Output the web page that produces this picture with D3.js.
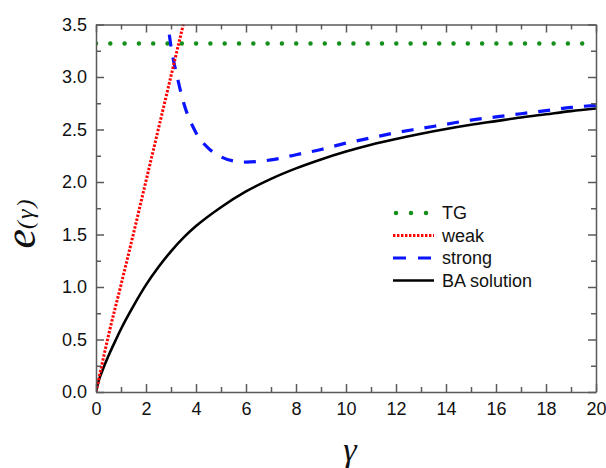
<!DOCTYPE html>
<html>
<head>
<meta charset="utf-8">
<script src="https://cdn.jsdelivr.net/npm/d3@7/dist/d3.min.js"></script>
<style>
  body { margin: 0; background: #fff; }
  svg { display: block; }
  .axis path, .axis line { stroke: #5a5a5a; stroke-width: 1.5; }
</style>
</head>
<body>
<svg id="chart" width="606" height="468"></svg>
<script>
// values
var xTicks = [0, 2, 4, 6, 8, 10, 12, 14, 16, 18, 20];
var yTicks = [0, 0.5, 1.0, 1.5, 2.0, 2.5, 3.0, 3.5];

var tgGamma = [0, 20];
var tgE = [3.32, 3.32];

var weakGamma = [0, 0.5, 1, 1.5, 2, 2.5, 3, 3.5, 3.6];
var weakE = [0, 0.54, 1.02, 1.51, 2.01, 2.51, 3.01, 3.51, 3.61];

var strongGamma = [2.8, 2.9, 3.0, 3.25, 3.5, 4, 4.5, 5, 5.5, 6, 7, 8, 9, 10, 11, 12, 13, 14, 15, 16, 17, 18, 19, 20];
var strongE = [3.62, 3.46, 3.29, 3.0, 2.76, 2.47, 2.32, 2.24, 2.2, 2.19, 2.21, 2.26, 2.31, 2.37, 2.42, 2.47, 2.51, 2.55, 2.59, 2.62, 2.65, 2.68, 2.71, 2.73];

var baGamma = [0, 0.1, 0.25, 0.5, 0.75, 1, 1.5, 2, 2.5, 3, 3.5, 4, 5, 6, 7, 8, 9, 10, 11, 12, 13, 14, 15, 16, 17, 18, 19, 20];
var baE = [0, 0.1, 0.2, 0.345, 0.475, 0.6, 0.82, 1.02, 1.19, 1.34, 1.47, 1.58, 1.76, 1.91, 2.03, 2.13, 2.215, 2.29, 2.355, 2.41, 2.46, 2.505, 2.545, 2.58, 2.615, 2.645, 2.675, 2.7];

var series = [
  {name: 'TG', g: tgGamma, e: tgE, color: '#14901a', width: 4.5, dash: '0,14.3', cap: 'round'},
  {name: 'BA solution', g: baGamma, e: baE, color: '#000', width: 2.6, dash: null, cap: 'butt'},
  {name: 'strong', g: strongGamma, e: strongE, color: '#0a14ff', width: 3.2, dash: '12,11', cap: 'butt'},
  {name: 'weak', g: weakGamma, e: weakE, color: '#ff0000', width: 3, dash: '2.4,1.6', cap: 'butt'}
];
var legendOrder = ['TG', 'weak', 'strong', 'BA solution'];

var mLeft = 96, mTop = 24.5, mRight = 596, mBottom = 392;
var sans = '"Liberation Sans", Arial, sans-serif';
var serif = '"Liberation Serif", "Times New Roman", serif';
var svg = d3.select('#chart');

var x = d3.scaleLinear().domain([0, 20]).range([mLeft, mRight]);
var y = d3.scaleLinear().domain([0, 3.5]).range([mBottom, mTop]);

svg.append('clipPath').attr('id', 'clip')
  .append('rect').attr('x', mLeft).attr('y', mTop)
  .attr('width', mRight - mLeft).attr('height', mBottom - mTop);

var line = d3.line()
  .x(function(d) { return x(d[0]); })
  .y(function(d) { return y(d[1]); })
  .curve(d3.curveMonotoneX);

var plot = svg.append('g').attr('clip-path', 'url(#clip)');
series.forEach(function(s) {
  var pts = s.g.map(function(v, i) { return [v, s.e[i]]; });
  plot.append('path')
    .datum(pts)
    .attr('fill', 'none')
    .attr('stroke', s.color)
    .attr('stroke-width', s.width)
    .attr('stroke-linecap', s.cap)
    .attr('stroke-dasharray', s.dash)
    .attr('d', line);
});

// minor ticks
var xMinor = d3.range(1, 20, 2);
var yMinor = d3.range(0.25, 3.5, 0.5);

function axes(axisFn, scale, major, minor, pos, fmt, pad) {
  var g = svg.append('g').attr('class', 'axis').attr('transform', pos);
  g.call(axisFn(scale).tickValues(major).tickSizeInner(-8).tickSizeOuter(0)
    .tickPadding(pad).tickFormat(fmt ? d3.format(fmt) : ''));
  g.selectAll('text')
    .style('font-family', sans).style('font-size', '18px').style('fill', '#111');
  var m = svg.append('g').attr('class', 'axis').attr('transform', pos);
  m.call(axisFn(scale).tickValues(minor).tickSizeInner(-5).tickSizeOuter(0).tickFormat(''));
  m.select('.domain').remove();
  return g;
}
axes(d3.axisBottom, x, xTicks, xMinor, 'translate(0,' + mBottom + ')', 'd', 10);
axes(d3.axisTop, x, xTicks, xMinor, 'translate(0,' + mTop + ')', null, 0);
axes(d3.axisLeft, y, yTicks, yMinor, 'translate(' + mLeft + ',0)', '.1f', 9);
axes(d3.axisRight, y, yTicks, yMinor, 'translate(' + mRight + ',0)', null, 0);

// axis titles
svg.append('text')
  .attr('transform', 'translate(35,223) rotate(-90)')
  .attr('text-anchor', 'middle')
  .style('font-family', serif)
  .style('font-style', 'italic')
  .style('fill', '#111')
  .call(function(t) {
    t.append('tspan').style('font-size', '44px').text('e');
    t.append('tspan').style('font-size', '24px').style('letter-spacing', '2px')
      .attr('dy', -2).text('(γ)');
  });

svg.append('text')
  .attr('x', 350).attr('y', 461)
  .attr('text-anchor', 'middle')
  .style('font-family', serif)
  .style('font-style', 'italic')
  .style('font-size', '34px')
  .style('fill', '#111')
  .text('γ');

// legend
var lg = svg.append('g');
legendOrder.forEach(function(name, i) {
  var s = series.filter(function(d) { return d.name === name; })[0];
  var yy = 213 + i * 22.5;
  var x0 = name === 'TG' ? 396 : 393, x1 = name === 'TG' ? 427 : 434;
  lg.append('line')
    .attr('x1', x0).attr('x2', x1).attr('y1', yy).attr('y2', yy)
    .attr('stroke', s.color)
    .attr('stroke-width', s.width)
    .attr('stroke-linecap', s.cap)
    .attr('stroke-dasharray', name === 'TG' ? '0,15' : (name === 'strong' ? '13,12' : s.dash));
  lg.append('text')
    .attr('x', 442).attr('y', yy).attr('dy', '0.36em')
    .style('font-family', sans).style('font-size', '18px').style('fill', '#111')
    .text(name);
});
</script>
</body>
</html>
